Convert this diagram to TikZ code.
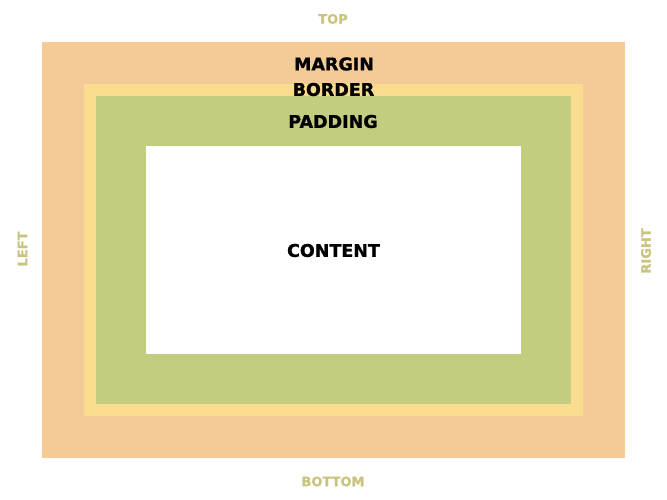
\documentclass[tikz,border=0pt]{standalone}
\usepackage{fontspec}
\setmainfont{DejaVu Sans}[BoldFeatures={FakeBold=1.2}]
\usepackage{tikz}

\definecolor{margincol}{HTML}{F4CB97}
\definecolor{bordercol}{HTML}{F9DC8D}
\definecolor{paddingcol}{HTML}{C4CC80}
\definecolor{sidecol}{HTML}{C9C47F}

\begin{document}
\begin{tikzpicture}[x=1pt,y=-1pt,
        box label/.style={font=\bfseries\fontsize{17.5}{17.5}\selectfont, text=black, inner sep=0pt},
        side label/.style={font=\bfseries\fontsize{13}{13}\selectfont, text=sidecol, inner sep=0pt}
        ]

        \useasboundingbox (0,0) rectangle (667,500);

        % nested boxes
        \fill [margincol] (42,42) rectangle (625,458);
        \fill [bordercol] (84,84) rectangle (583,416);
        \fill [paddingcol] (96,96) rectangle (571,404);
        \fill [white] (146,146) rectangle (521,354);

        \node [box label] (margin) at (334,64) {MARGIN};
        \node [box label] (border) at (333.5,89.5) {BORDER};
        \node [box label] (padding) at (333,121.5) {PADDING};
        \node [box label] (content) at (333.5,250.5) {CONTENT};

        \node [side label] (top) at (333,19) {TOP};
        \node [side label] (bottom) at (333,481.5) {BOTTOM};
        \node [side label, rotate=90] (left) at (22.5,249) {LEFT};
        \node [side label, rotate=90] (right) at (646,251) {RIGHT};
     \end{tikzpicture}
\end{document}
